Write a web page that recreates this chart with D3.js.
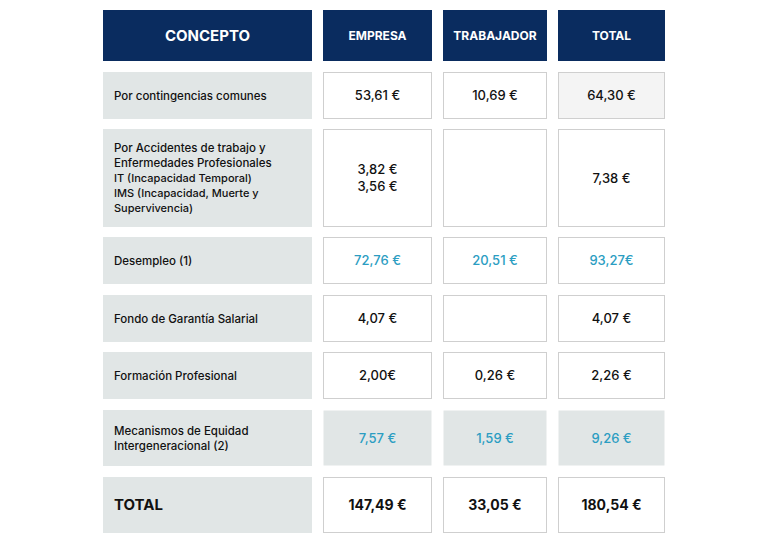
<!DOCTYPE html>
<html><head><meta charset="utf-8">
<script src="https://cdn.jsdelivr.net/npm/d3@7"></script>
<style>body{margin:0;background:#fff;font-family:Inter,"Noto Sans",sans-serif;}</style>
</head><body>
<script>
// table contents
var headers = ["CONCEPTO","EMPRESA","TRABAJADOR","TOTAL"];
var concepts = [
  ["Por contingencias comunes"],
  ["Por Accidentes de trabajo y","Enfermedades Profesionales","IT (Incapacidad Temporal)","IMS (Incapacidad, Muerte y","Supervivencia)"],
  ["Desempleo (1)"],
  ["Fondo de Garantía Salarial"],
  ["Formación Profesional"],
  ["Mecanismos de Equidad","Intergeneracional (2)"],
  ["TOTAL"]
];
var empresa = [["53,61 €"],["3,82 €","3,56 €"],["72,76 €"],["4,07 €"],["2,00€"],["7,57 €"],["147,49 €"]];
var trabajador = [["10,69 €"],[],["20,51 €"],[],["0,26 €"],["1,59 €"],["33,05 €"]];
var total = [["64,30 €"],["7,38 €"],["93,27€"],["4,07 €"],["2,26 €"],["9,26 €"],["180,54 €"]];
var rowKinds = ["plain","plain","teal","plain","plain","tealgray","total"];

var colX = [103,323,443,558], colW = [209,109,104,107];
var rowY = [72,129,237,295,352,410,477], rowH = [47,98,47,47,47,56,56];
var navy = "#0a2c5f", teal = "#2b9dc2", gray = "#e1e6e6";

var svg = d3.select("body").append("svg").attr("width",768).attr("height",543);

headers.forEach(function(h,i){
  svg.append("rect").attr("x",colX[i]).attr("y",10).attr("width",colW[i]).attr("height",51).attr("fill",navy);
  svg.append("text").attr("x",colX[i]+colW[i]/2).attr("y",36).attr("dy","0.35em")
    .attr("text-anchor","middle").attr("fill","#fff").attr("font-weight",700)
    .attr("font-size",i==0?15:12).text(h);
});

var cols = [empresa,trabajador,total];
concepts.forEach(function(lines,r){
  var kind = rowKinds[r], y = rowY[r], h = rowH[r];
  svg.append("rect").attr("x",colX[0]).attr("y",y).attr("width",colW[0]).attr("height",h).attr("fill",gray);
  var big = kind=="total";
  var lh = r==1 ? 15 : 15;
  lines.forEach(function(t,k){
    svg.append("text").attr("x",colX[0]+11).attr("y",y+h/2+(k-(lines.length-1)/2)*lh).attr("dy","0.35em")
      .attr("font-size",big?15:(r==1&&k>1?11:11.5)).attr("font-weight",big?700:500).attr("fill","#111").text(t);
  });
  cols.forEach(function(col,c){
    var i = c+1;
    var fill = kind=="tealgray" ? gray : (c==2 && r==0 ? "#f4f4f4" : "#fff");
    svg.append("rect").attr("x",colX[i]+0.5).attr("y",y+0.5).attr("width",colW[i]-1).attr("height",h-1)
      .attr("fill",fill).attr("stroke",kind=="tealgray"?"none":"#cfcfcf");
    col[r].forEach(function(t,k){
      svg.append("text").attr("x",colX[i]+colW[i]/2).attr("y",y+h/2+(k-(col[r].length-1)/2)*17).attr("dy","0.35em")
        .attr("text-anchor","middle").attr("font-size",big?14:13).attr("font-weight",big?700:500)
        .attr("fill",kind.indexOf("teal")==0?teal:"#111").text(t);
    });
  });
});
</script>
</body></html>
